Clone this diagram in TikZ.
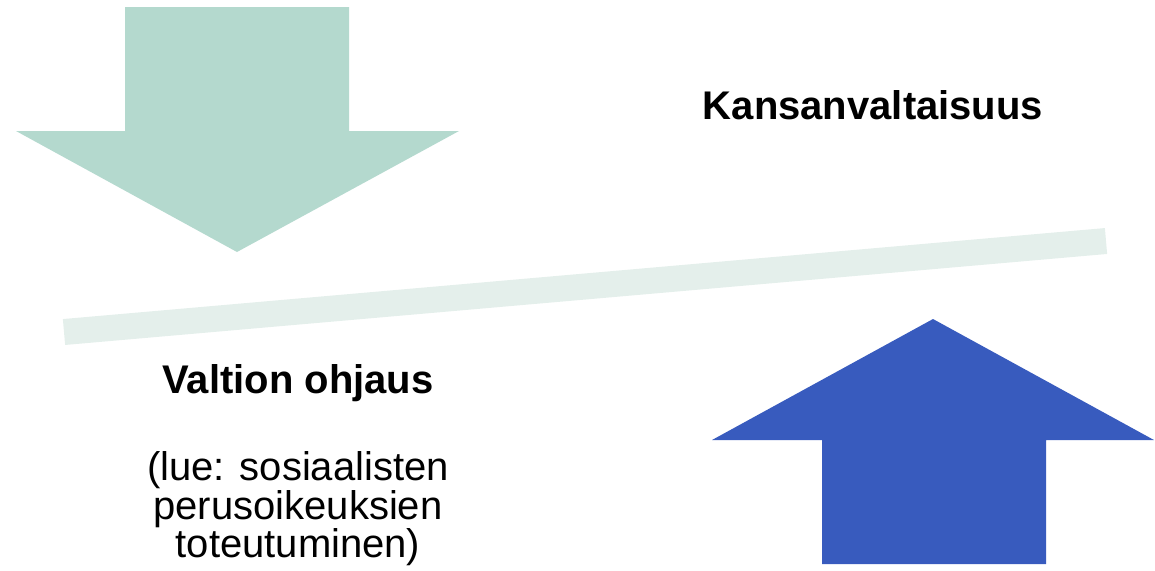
\documentclass[tikz,border=0pt]{standalone}
\usepackage{fontspec}
\setmainfont{Liberation Sans}
\usepackage{tikz}
\usetikzlibrary{positioning}
\definecolor{mintgreen}{HTML}{B4D9CE}
\definecolor{palemint}{HTML}{E4EFEB}
\definecolor{royalblue}{HTML}{385BBE}

\begin{document}
\begin{tikzpicture}[x=0.5pt,y=-0.5pt,
  title/.style={font=\fontsize{20}{19}\selectfont\bfseries,align=center,inner sep=0pt},
  note/.style={font=\fontsize{20}{19.2}\selectfont,align=center,inner sep=0pt}]
  \useasboundingbox (0,0) rectangle (1155,570);
  \fill[mintgreen] (125,7) -- (349,7) -- (349,131) -- (459,131) -- (237,252)
    -- (16,131) -- (125,131) -- cycle;
  \fill[royalblue] (822,564) -- (1046,564) -- (1046,440) -- (1154,440) -- (933,319)
    -- (712,440) -- (822,440) -- cycle;
  \coordinate (bar_l) at (64,332);
  \coordinate (bar_r) at (1106,241);
  \draw[palemint,line width=13pt] (bar_l) -- (bar_r);
  \node[title] (kansa) at (873,105) {Kansanvaltaisuus};
  \node[title] (valtio) at (298,383) {Valtion ohjaus};
  \node[note] (lue) at (298,509) {(lue: sosiaalisten\\perusoikeuksien\\toteutuminen)};
\end{tikzpicture}
\end{document}
